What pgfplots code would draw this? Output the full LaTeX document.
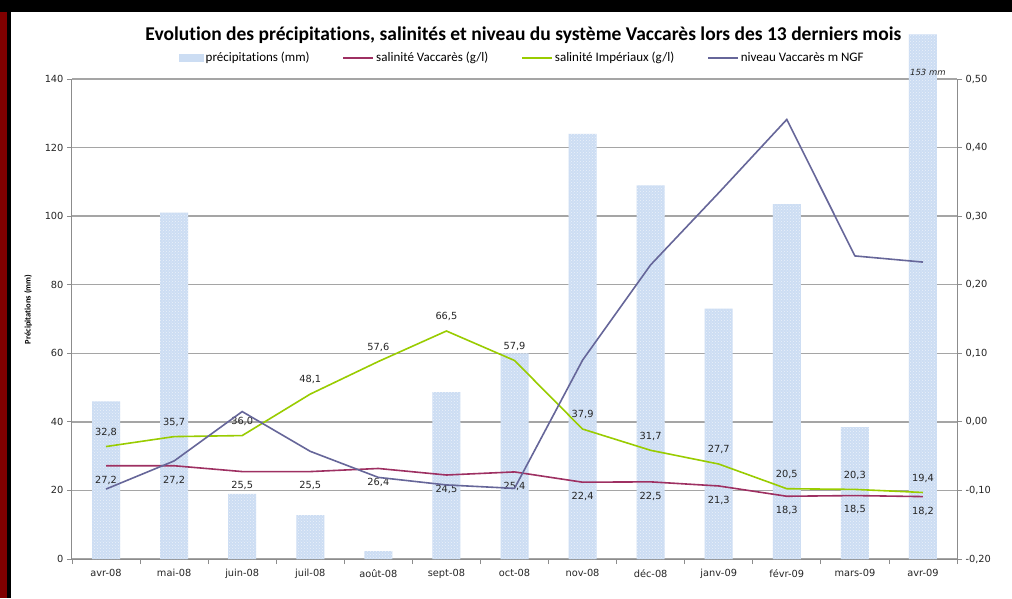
\documentclass[border=0pt]{standalone}
\usepackage{fontspec}
\usepackage{pgfplots}
\pgfplotsset{compat=1.18}
\usetikzlibrary{patterns}
\setmainfont{Carlito}[Ligatures={NoCommon}]
\newfontfamily\dejavu{DejaVu Sans}
\definecolor{barblue}{RGB}{204,221,243}
\definecolor{vaccol}{RGB}{158,48,98}
\definecolor{impcol}{RGB}{153,204,0}
\definecolor{nivcol}{RGB}{102,102,153}
\definecolor{gridgrey}{RGB}{165,165,165}
\definecolor{axgrey}{RGB}{140,140,140}
\definecolor{darkredb}{RGB}{128,0,0}
\begin{document}
\begin{tikzpicture}
\useasboundingbox (0,0) rectangle (1012pt,598pt);
\fill[white] (0,0) rectangle (1012pt,598pt);
\fill[black] (0,586pt) rectangle (1012pt,598pt);
\fill[black] (0,0) rectangle (11pt,598pt);
\fill[darkredb] (0,0) rectangle (7pt,586pt);
\begin{axis}[
  at={(72pt,39pt)}, anchor=south west,
  scale only axis, width=885pt, height=480pt,
  xmin=-0.5, xmax=12.5, ymin=0, ymax=140,
  clip=false,
  axis x line*=bottom, axis y line*=left,
  axis line style={axgrey, line width=1pt, -},
  xtick={0,...,12},
  xticklabels={avr-08,mai-08,juin-08,juil-08,août-08,sept-08,oct-08,nov-08,déc-08,janv-09,févr-09,mars-09,avr-09},
  major x tick style={draw=none},
  minor xtick={-0.5,0.5,...,12.5},
  minor x tick style={axgrey, line width=0.8pt},
  minor tick length=5pt,
  tick align=outside,
  ytick={0,20,...,140},
  major y tick style={axgrey, line width=0.8pt},
  major tick length=5pt,
  ymajorgrids, grid style={gridgrey, line width=1.3pt},
  tick label style={font=\dejavu\fontsize{9.8}{11}\selectfont, text=black!85},
  /pgf/number format/assume math mode=true,
  xticklabel style={yshift=-2pt},
  ylabel={Précipitations (mm)},
  ylabel style={font=\bfseries\fontsize{8.5}{9}\selectfont, at={(axis description cs:-0.0497,0.52)}, anchor=center},
  title={Evolution des précipitations, salinités et niveau du système Vaccarès lors des 13 derniers mois},
  title style={font=\bfseries\fontsize{19.5}{22}\selectfont, at={(axis description cs:0.51,1.079)}, anchor=center},
]
\addplot[ybar, bar width=28pt, draw=none, fill=barblue,
  postaction={pattern=crosshatch dots, pattern color=white!60!barblue}]
  coordinates {(0,46) (1,101) (2,19) (3,12.8) (4,2.3) (5,48.7) (6,60) (7,124) (8,109) (9,73) (10,103.5) (11,38.5) (12,153)};
\addplot[vaccol, line width=1.6pt, mark=none,
  nodes near coords, point meta=y,
  every node near coord/.style={anchor=north, yshift=-6pt, font=\dejavu\fontsize{9.8}{11}\selectfont, text=black!85,
    /pgf/number format/.cd, fixed, fixed zerofill, precision=1, use comma}]
  coordinates {(0,27.2) (1,27.2) (2,25.5) (3,25.5) (4,26.4) (5,24.5) (6,25.4) (7,22.4) (8,22.5) (9,21.3) (10,18.3) (11,18.5) (12,18.2)};
\addplot[impcol, line width=1.6pt, mark=none,
  nodes near coords, point meta=y,
  every node near coord/.style={anchor=south, yshift=6pt, font=\dejavu\fontsize{9.8}{11}\selectfont, text=black!85,
    /pgf/number format/.cd, fixed, fixed zerofill, precision=1, use comma}]
  coordinates {(0,32.8) (1,35.7) (2,36.0) (3,48.1) (4,57.6) (5,66.5) (6,57.9) (7,37.9) (8,31.7) (9,27.7) (10,20.5) (11,20.3) (12,19.4)};
\node[anchor=south east, font=\dejavu\itshape\fontsize{8.5}{9}\selectfont, text=black!85, inner sep=1pt] at (axis cs:12.35,140.5) {153 mm};
\end{axis}
\begin{axis}[
  at={(72pt,39pt)}, anchor=south west,
  scale only axis, width=885pt, height=480pt,
  xmin=-0.5, xmax=12.5, ymin=-0.2, ymax=0.5,
  axis x line=none, axis y line*=right,
  axis line style={axgrey, line width=1pt, -},
  ytick={-0.2,-0.1,...,0.5},
  tick align=outside,
  major tick length=5pt,
  major y tick style={axgrey, line width=0.8pt},
  tick label style={font=\dejavu\fontsize{9.8}{11}\selectfont, text=black!85},
  yticklabel style={/pgf/number format/.cd, fixed, fixed zerofill, precision=2, use comma, assume math mode=true},
  legend columns=4,
  legend style={draw=none, fill=none, at={(0.509,1.044)}, anchor=center,
    font=\fontsize{13}{15}\selectfont, /tikz/every even column/.append style={column sep=31pt}},
  legend image code/.code={\draw[#1] (0pt,0pt) -- (30pt,0pt);},
]
\addlegendimage{legend image code/.code={\fill[barblue] (0pt,-3.5pt) rectangle (24pt,3.5pt);}}
\addlegendentry{précipitations (mm)}
\addlegendimage{vaccol, line width=1.6pt}
\addlegendentry{salinité Vaccarès (g/l)}
\addlegendimage{impcol, line width=1.6pt}
\addlegendentry{salinité Impériaux (g/l)}
\addplot[nivcol, line width=1.6pt, mark=none]
  coordinates {(0,-0.098) (1,-0.057) (2,0.015) (3,-0.043) (4,-0.081) (5,-0.092) (6,-0.097) (7,0.090) (8,0.229) (9,0.334) (10,0.441) (11,0.242) (12,0.233)};
\addlegendentry{niveau Vaccarès m NGF}
\end{axis}
\end{tikzpicture}
\end{document}
